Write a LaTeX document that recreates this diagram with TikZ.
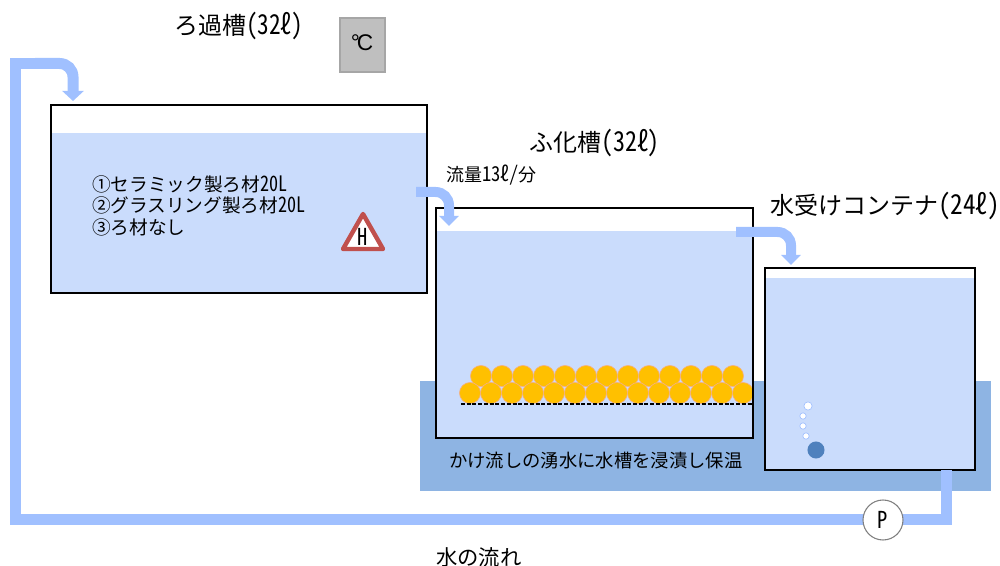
\documentclass[tikz,border=0pt]{standalone}
\usepackage{fontspec}
\setmainfont{Noto Sans CJK JP}
\newfontfamily\hw[CharacterWidth=Half]{Noto Sans CJK JP}
\newfontfamily\latn{Liberation Sans}
\usetikzlibrary{arrows.meta}
\newcommand{\fs}[1]{\fontsize{#1}{#1}\selectfont}
% half-width run drawn tall; the optional argument sets its horizontal scale
\newcommand{\nw}[2][0.97]{\scalebox{#1}[1.14]{\hw #2}}
\definecolor{water}{HTML}{CADCFC}
\definecolor{pipe}{HTML}{A0C0FF}
\definecolor{bath}{HTML}{8EB4E3}
\definecolor{media}{HTML}{FFC000}
\definecolor{mediaedge}{HTML}{F4B183}
\definecolor{warn}{HTML}{C0504D}
\definecolor{stonecol}{HTML}{4F81BD}
\tikzset{
  x=0.75pt,y=-0.75pt,
  tank/.style={draw=black,line width=1.1pt,fill=none,inner sep=0pt,outer sep=0pt},
  waterbody/.style={fill=water,draw=none},
  pipeline/.style={draw=pipe,line width=8.25pt,line join=miter},
  flow/.style={draw=pipe,line width=7.5pt,rounded corners=10pt,-{Triangle[width=14.5pt,length=7.5pt]}},
  mainflow/.style={draw=pipe,line width=8.25pt,rounded corners=10pt,-{Triangle[width=15.75pt,length=7.5pt]}},
  ball/.style={circle,fill=media,draw=mediaedge,line width=0.5pt,minimum size=15.8pt,inner sep=0pt},
  bubble/.style={circle,fill=white,draw=pipe,line width=0.5pt,inner sep=0pt},
  label/.style={inner sep=0pt,outer sep=0pt,text=black},
}
\begin{document}
\begin{tikzpicture}
\useasboundingbox (0,0) rectangle (1000,566);

% cooling bath under the two lower tanks
\fill[bath] (420,381) rectangle (991,491);

% water bodies
\fill[waterbody] (51,133) rectangle (427,293);
\fill[waterbody] (436,231) rectangle (753,438);
\fill[waterbody] (765,278) rectangle (975,470);

% filter media: two stacked rows of balls on a mesh
\foreach \i in {0,...,12} \node[ball] (up\i) at ({481+21*\i},376) {};
\foreach \i in {0,...,13} \node[ball] (low\i) at ({470+21*\i},393) {};
\coordinate (meshL) at (461,404);
\coordinate (meshR) at (753,404);
\draw[black,line width=0.9pt,dash pattern=on 3pt off 1.3pt] (meshL) -- (meshR);

% tank outlines
\node[tank,minimum width=282pt,minimum height=141pt] (tankA) at (239,199) {};
\node[tank,minimum width=237.75pt,minimum height=172.5pt] (tankB) at (594.5,323) {};
\node[tank,minimum width=157.5pt,minimum height=151.5pt] (tankC) at (870,369) {};

% air stone and bubbles
\node[circle,fill=stonecol,draw=none,minimum size=12.8pt,inner sep=0pt] (stone) at (816,450) {};
\node[bubble,minimum size=6.2pt] (b1) at (808,406) {};
\node[bubble,minimum size=4.8pt] (b2) at (803,416) {};
\node[bubble,minimum size=4.8pt] (b3) at (803,426) {};
\node[bubble,minimum size=4.8pt] (b4) at (806,436) {};

% connectors between tanks
\coordinate (outA) at (416,192);
\coordinate (bendA) at (449,192);
\coordinate (inB) at (449,226);
\coordinate (outB) at (736,232);
\coordinate (bendB) at (791,232);
\coordinate (inC) at (791,265);
\coordinate (outC) at (946,470);
\coordinate (cornerC) at (946,519.5);
\coordinate (cornerL) at (15.5,519.5);
\coordinate (cornerT) at (15.5,63.5);
\coordinate (joinT) at (40,63.5);
\coordinate (startT) at (35,63.5);
\coordinate (bendT) at (73,63.5);
\coordinate (inA) at (73,101);

\draw[pipeline] (outC) -- (cornerC) -- (cornerL) -- (cornerT) -- (joinT);
\draw[mainflow] (startT) -- (bendT) -- (inA);
\draw[flow] (outA) -- (bendA) -- (inB);
\draw[flow] (outB) -- (bendB) -- (inC);

% pump
\node[circle,fill=white,draw=black!50,line width=0.8pt,minimum size=30pt,inner sep=0pt,font=\fs{14}] (pump) at (883,520) {\scalebox{1.1}[1.25]{\hw P}};

% thermometer box
\node[fill=black!25,draw=black!35,line width=1pt,minimum width=33.75pt,minimum height=40.5pt,inner sep=0pt] (thermo) at (362.5,45) {};
\node[label,font={\latn\fs{17}}] (deg) at (362,43) {°\kern-2.2pt C};

% heater warning sign
\draw[warn,fill=white,line width=3.3pt,line join=round] (363,214) -- (383,249) -- (343,249) -- cycle;
\node[label,font=\fs{14}] (heat) at (363,236.5) {\scalebox{1.1}[1.25]{\hw H}};

% labels
\node[label,anchor=west,font=\fs{18}] (titleA) at (174,26) {ろ過槽\nw{(32ℓ)}};
\node[label,anchor=west,font=\fs{18}] (titleB) at (529,143) {ふ化槽\nw[1.0]{(32ℓ)}};
\node[label,anchor=west,font=\fs{18}] (titleC) at (770,206) {水受けコンテナ\nw[1.05]{(24ℓ)}};
\node[label,anchor=west,font=\fs{13.5}] (rate) at (446,175) {流量\nw[1.03]{13ℓ/}分};
\node[label,anchor=west,font=\fs{14}] (m1) at (92,184) {①セラミック製ろ材\nw{20L}};
\node[label,anchor=west,font=\fs{14}] (m2) at (92,205.5) {②グラスリング製ろ材\nw{20L}};
\node[label,anchor=west,font=\fs{14}] (m3) at (92,227) {③ろ材なし};
\node[label,anchor=west,font=\fs{13.75}] (bathtxt) at (449,461) {かけ流しの湧水に水槽を浸漬し保温};
\node[label,anchor=west,font=\fs{16}] (flowtxt) at (436,557) {水の流れ};
\end{tikzpicture}
\end{document}
